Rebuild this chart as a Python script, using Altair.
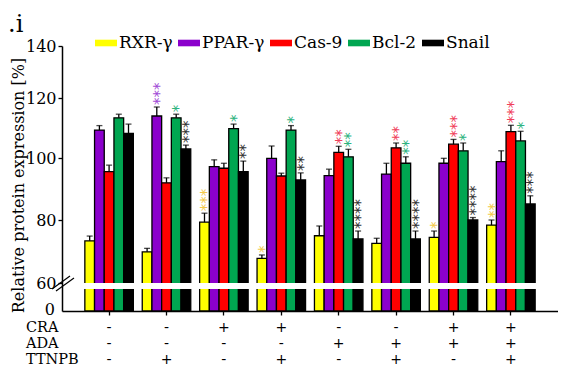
import altair as alt
import pandas as pd

groups = ["1", "2", "3", "4", "5", "6", "7", "8"]
series = ["RXR-γ", "PPAR-γ", "Cas-9", "Bcl-2", "Snail"]
colors = ["#FFFF00", "#8B00CC", "#FF0000", "#00A651", "#000000"]
star_colors = ["#F2C94C", "#A24BD6", "#F0405A", "#2DB37E", "#333333"]

rxr = [73.4, 69.9, 79.3, 67.8, 75.0, 72.6, 74.5, 78.4]
ppar = [109.3, 114.0, 97.2, 99.9, 94.3, 94.8, 98.3, 98.8]
cas9 = [95.6, 92.0, 96.7, 94.2, 101.9, 103.4, 104.6, 108.8]
bcl2 = [113.4, 113.4, 109.8, 109.3, 100.4, 98.3, 102.4, 105.7]
snail = [108.2, 103.0, 95.6, 92.9, 74.0, 74.0, 80.0, 85.2]

rxr_err = [1.5, 1.1, 2.9, 1.1, 3.1, 1.6, 2.0, 1.6]
ppar_err = [1.5, 3.0, 2.2, 4.1, 2.1, 3.5, 1.6, 3.6]
cas9_err = [2.1, 1.6, 1.6, 0.9, 2.0, 1.6, 1.6, 2.1]
bcl2_err = [1.2, 1.2, 1.5, 1.5, 2.5, 2.1, 2.6, 3.2]
snail_err = [3.1, 1.3, 3.4, 2.3, 2.5, 2.5, 0.8, 2.6]

rxr_sig = ["", "", "***", "*", "", "", "*", "**"]
ppar_sig = ["", "***", "", "", "", "", "", ""]
cas9_sig = ["", "", "", "", "**", "**", "***", "***"]
bcl2_sig = ["", "*", "*", "*", "**", "**", "*", "*"]
snail_sig = ["", "***", "**", "**", "****", "****", "****", "***"]

row_names = ["CRA", "ADA", "TTNPB"]
cra = ["-", "-", "+", "+", "-", "-", "+", "+"]
ada = ["-", "-", "-", "-", "+", "+", "+", "+"]
ttnpb = ["-", "+", "-", "+", "-", "+", "-", "+"]

y_ticks = [60, 80, 100, 120, 140]
y_base_label = ["0"]

vals = [rxr, ppar, cas9, bcl2, snail]
errs = [rxr_err, ppar_err, cas9_err, bcl2_err, snail_err]
sigs = [rxr_sig, ppar_sig, cas9_sig, bcl2_sig, snail_sig]

records = []
for j, s in enumerate(series):
    for i, g in enumerate(groups):
        records.append(dict(group=g, series=s, value=vals[j][i],
                            top=vals[j][i] + errs[j][i], stars=sigs[j][i],
                            star_color=star_colors[j]))
df = pd.DataFrame(records)
star_df = df[df["stars"] != ""]

W, H = 496, 265
SERIF = "DejaVu Serif"

x_enc = alt.X("group:N", sort=groups,
              scale=alt.Scale(domain=groups, paddingInner=0.155, paddingOuter=0.398),
              axis=alt.Axis(title=None, labels=False, ticks=True, tickSize=4,
                            tickColor="black", tickWidth=1.3, domainColor="black",
                            domainWidth=1.5, grid=False))
xo_enc = alt.XOffset("series:N", sort=series,
                     scale=alt.Scale(domain=series, paddingInner=0, paddingOuter=0))
y_scale = alt.Scale(domain=[0, 60, 80, 100, 120, 140],
                    range=[H, 237, 174, 112, 52, 0], zero=False, nice=False)

bars = alt.Chart(df).mark_bar(stroke="black", strokeWidth=1.3).encode(
    x=x_enc,
    xOffset=xo_enc,
    y=alt.Y("value:Q", scale=y_scale,
            axis=alt.Axis(values=y_ticks, tickCount=12,
                          title="Relative protein expression [%]",
                          titleFont=SERIF, titleFontSize=16, titleFontWeight="normal",
                          titleColor="black", titleX=-44, titleY=139, titleAngle=-90,
                          titleAlign="center", titleBaseline="middle",
                          labelFont=SERIF, labelFontSize=16, labelColor="black",
                          labelPadding=2, labelFlush=False, labelOverlap=False,
                          labelBound=False,
                          tickSize=4, tickColor="black", tickWidth=1.3,
                          domainColor="black", domainWidth=1.5, grid=False)),
    color=alt.Color("series:N", sort=series,
                    scale=alt.Scale(domain=series, range=colors),
                    legend=alt.Legend(orient="none", legendX=33, legendY=-14,
                                      direction="horizontal", title=None,
                                      symbolType="M-1,-0.3H1V0.3H-1Z", symbolSize=484,
                                      symbolStrokeWidth=0, symbolOpacity=1,
                                      labelFont=SERIF, labelFontSize=17,
                                      labelColor="black", labelOffset=2,
                                      columnPadding=5)),
)

err = alt.Chart(df).mark_rule(color="black", strokeWidth=1.3).encode(
    x=alt.X("group:N", sort=groups), xOffset=alt.XOffset("series:N", sort=series),
    y=alt.Y("value:Q"), y2="top:Q")

caps = alt.Chart(df).mark_tick(color="black", thickness=1.3, size=6,
                               orient="horizontal").encode(
    x=alt.X("group:N", sort=groups), xOffset=alt.XOffset("series:N", sort=series),
    y=alt.Y("top:Q"))

stars = alt.Chart(star_df).mark_text(angle=270, align="left", baseline="middle",
                                     dx=2, dy=3, font="DejaVu Sans",
                                     fontSize=15).encode(
    x=alt.X("group:N", sort=groups), xOffset=alt.XOffset("series:N", sort=series),
    y=alt.Y("top:Q"), text="stars:N",
    fill=alt.Fill("star_color:N", scale=None))

break_band = alt.Chart(df).mark_rect(color="white").encode(
    x=alt.value(10), x2=alt.value(486), y=alt.datum(60), y2=alt.datum(49))

slash_df = pd.DataFrame({"k": [0]})
slash1 = alt.Chart(slash_df).mark_rule(color="black", strokeWidth=1.2).encode(
    x=alt.value(-10), x2=alt.value(8), y=alt.value(243), y2=alt.value(230))
slash2 = alt.Chart(slash_df).mark_rule(color="black", strokeWidth=1.2).encode(
    x=alt.value(-6), x2=alt.value(12), y=alt.value(245), y2=alt.value(232))

zero_label = alt.Chart(pd.DataFrame({"t": y_base_label})).mark_text(
    font=SERIF, fontSize=16, align="right", baseline="middle", fill="black").encode(
    x=alt.value(-7), y=alt.value(H - 1), text="t:N")

rows = [cra, ada, ttnpb]
row_y = [17, 33, 49]
table_layers = []
for r, name in enumerate(row_names):
    tdf = pd.DataFrame({"group": groups, "sign": rows[r]})
    table_layers.append(
        alt.Chart(tdf).mark_text(font="DejaVu Sans", fontSize=14, baseline="middle",
                                 color="black").encode(
            x=alt.X("group:N", sort=groups), y=alt.value(H + row_y[r]),
            text="sign:N"))
    ldf = pd.DataFrame({"label": [name]})
    table_layers.append(
        alt.Chart(ldf).mark_text(font=SERIF, fontSize=14.5, baseline="middle",
                                 align="left", color="black").encode(
            x=alt.value(-36), y=alt.value(H + row_y[r]), text="label:N"))

panel_label = alt.Chart(pd.DataFrame({"t": [".i"]})).mark_text(
    font=SERIF, fontSize=24, align="left", baseline="alphabetic", color="black").encode(
    x=alt.value(-54), y=alt.value(-14), text="t:N")

chart = alt.layer(bars, err, caps, stars, break_band, slash1, slash2,
                  *table_layers, panel_label, zero_label).properties(
    width=W, height=H,
    autosize=alt.AutoSizeParams(type="none"),
    padding={"left": 54, "top": 38, "right": 0, "bottom": 55},
    background="white",
).configure_view(stroke=None)

chart.save("out.html", embed_options={"renderer": "svg", "actions": False})
